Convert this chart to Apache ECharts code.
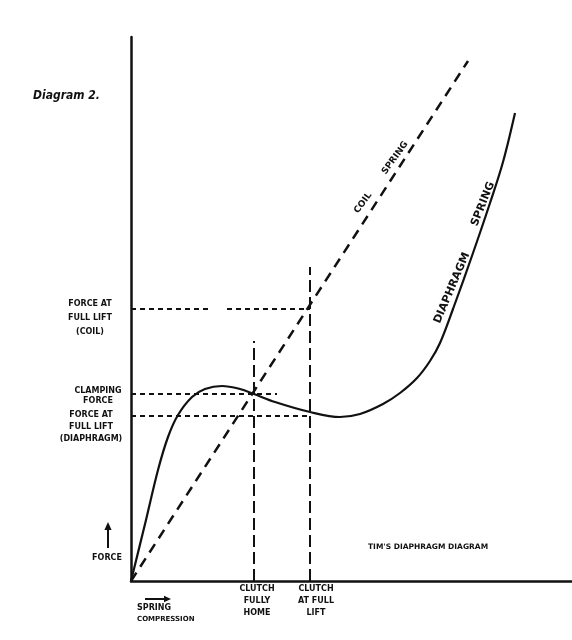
<!DOCTYPE html>
<html>
<head>
<meta charset="utf-8">
<script src="https://cdn.jsdelivr.net/npm/echarts@6/dist/echarts.min.js"></script>
<style>
  html, body { margin: 0; padding: 0; background: #fff; }
  #chart { width: 572px; height: 640px; }
</style>
</head>
<body>
<div id="chart"></div>
<script>
// ----------------- D A T A ----------------- //
// drawing units: x = spring compression, y = force
const diaphragmX = [0, 15, 27, 37, 47, 61, 74, 91, 109, 123, 144, 179, 209, 229, 252, 269, 286, 299, 309, 322, 342, 359, 372, 384]
const diaphragmY = [0, 61, 111, 144, 166, 184, 192, 195, 192, 187, 179, 169, 164, 167, 177, 188, 203, 220, 238, 272, 328, 378, 419, 468]
const coilX = [0, 337]
const coilY = [0, 520]
const clutchHomeX = 123
const clutchLiftX = 179
const clutchMarkerTop = [240, 314]
const forceCoil = 272
const clampingForce = 187
const forceDiaphragm = 165
const clampingGuideEnd = 146
const coilGuideGap = [77, 96]

const xMax = 441
const yMax = 544

const pairs = (xs, ys) => xs.map((x, i) => [x, ys[i]])

const ink = '#111'
const hand = '"DejaVu Sans", sans-serif'

const chart = echarts.init(document.getElementById('chart'))

// free text, anchored at (x, y)
const txt = (text, x, y, opts = {}) => ({
  type: 'text',
  x, y,
  rotation: opts.rotation || 0,
  style: {
    text,
    fill: ink,
    font: opts.font || `bold 8px ${hand}`,
    align: opts.align || 'center',
    verticalAlign: 'middle',
    lineHeight: opts.lineHeight || 12
  }
})

const arrow = (x1, y1, x2, y2, head) => {
  const ang = Math.atan2(y2 - y1, x2 - x1)
  const hx = x2 - head * Math.cos(ang)
  const hy = y2 - head * Math.sin(ang)
  const px = Math.sin(ang) * head * 0.45
  const py = -Math.cos(ang) * head * 0.45
  return {
    type: 'group',
    children: [
      { type: 'line', shape: { x1, y1, x2: hx, y2: hy }, style: { stroke: ink, lineWidth: 2 } },
      { type: 'polygon', shape: { points: [[x2, y2], [hx + px, hy + py], [hx - px, hy - py]] }, style: { fill: ink } }
    ]
  }
}

const guide = (data, type, width) => ({
  type: 'line',
  data,
  symbol: 'none',
  silent: true,
  lineStyle: { color: ink, width, type }
})

const dotted = [5, 4]
const longDash = [12, 5]

const option = {
  backgroundColor: '#fff',
  animation: false,
  grid: { left: 131, right: 0, top: 37, bottom: 59 },
  xAxis: {
    type: 'value',
    min: 0,
    max: xMax,
    axisLine: { show: true, onZero: false, lineStyle: { color: ink, width: 2.5 } },
    axisTick: { show: false },
    axisLabel: { show: false },
    splitLine: { show: false }
  },
  yAxis: {
    type: 'value',
    min: 0,
    max: yMax,
    axisLine: { show: true, onZero: false, lineStyle: { color: ink, width: 2.5 } },
    axisTick: { show: false },
    axisLabel: { show: false },
    splitLine: { show: false }
  },
  series: [
    // dotted guides to the force axis
    guide([[0, forceCoil], [coilGuideGap[0], forceCoil]], dotted, 2),
    guide([[coilGuideGap[1], forceCoil], [clutchLiftX, forceCoil]], dotted, 2),
    guide([[0, clampingForce], [clampingGuideEnd, clampingForce]], dotted, 2),
    guide([[0, forceDiaphragm], [clutchLiftX, forceDiaphragm]], dotted, 2),
    // clutch positions
    guide([[clutchHomeX, 0], [clutchHomeX, clutchMarkerTop[0]]], longDash, 2),
    guide([[clutchLiftX, 0], [clutchLiftX, clutchMarkerTop[1]]], longDash, 2),
    // coil spring
    guide(pairs(coilX, coilY), [10, 7], 2.5),
    // diaphragm spring
    {
      type: 'line',
      data: pairs(diaphragmX, diaphragmY),
      smooth: 0.35,
      symbol: 'none',
      silent: true,
      lineStyle: { color: ink, width: 2.2 }
    }
  ],
  graphic: [
    txt('Diagram 2.', 33, 96, { font: 'italic bold 12px "DejaVu Sans Condensed", sans-serif', align: 'left' }),
    txt('FORCE AT\nFULL LIFT\n(COIL)', 90, 318, { lineHeight: 14 }),
    txt('CLAMPING\nFORCE', 98, 396, { lineHeight: 10 }),
    txt('FORCE AT\nFULL LIFT\n(DIAPHRAGM)', 91, 427, { lineHeight: 12 }),
    arrow(108, 548, 108, 522, 8),
    txt('FORCE', 107, 558),
    arrow(145, 599, 171, 599, 7),
    txt('SPRING', 137, 608, { align: 'left' }),
    txt('COMPRESSION', 137, 619, { align: 'left', font: `bold 7px ${hand}` }),
    txt('CLUTCH\nFULLY\nHOME', 257, 601, { lineHeight: 12 }),
    txt('CLUTCH\nAT FULL\nLIFT', 316, 601, { lineHeight: 12 }),
    txt("TIM'S DIAPHRAGM DIAGRAM", 368, 547, { align: 'left', font: `bold 7.5px ${hand}` }),
    txt('COIL', 363, 203, { rotation: Math.PI * 54 / 180, font: `bold 9px ${hand}` }),
    txt('SPRING', 395, 158, { rotation: Math.PI * 54 / 180, font: `bold 9px ${hand}` }),
    txt('DIAPHRAGM', 452, 288, { rotation: Math.PI * 67 / 180, font: `bold 11px ${hand}` }),
    txt('SPRING', 483, 204, { rotation: Math.PI * 68 / 180, font: `bold 11px ${hand}` })
  ]
}

chart.setOption(option)
</script>
</body>
</html>
